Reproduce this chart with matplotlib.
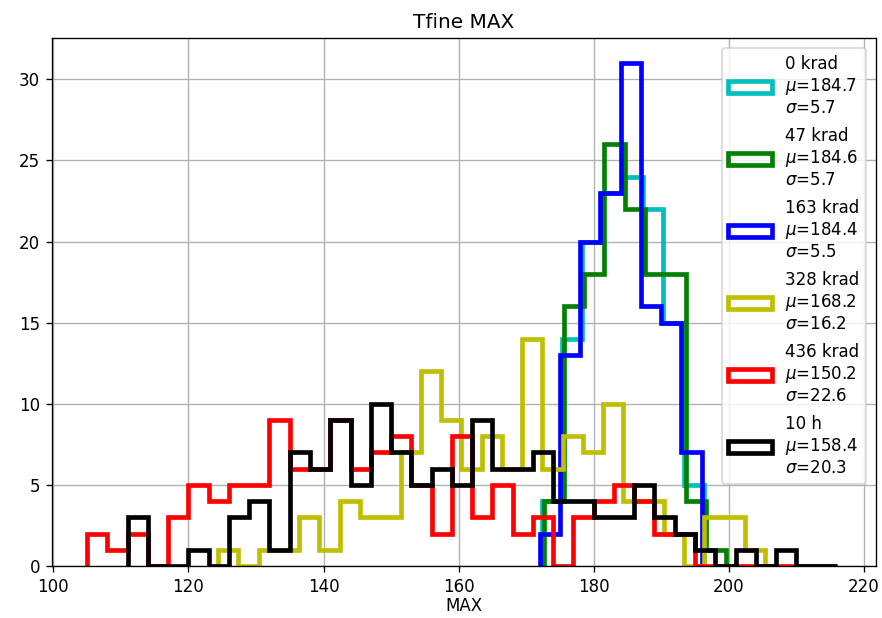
import numpy as np
from matplotlib import pyplot as plt

# bin width of all histograms, same for every dose
bin_width = 3

doses = ["0 krad", "47 krad", "163 krad", "328 krad", "436 krad", "10 h"]
colors = ["c", "g", "b", "y", "r", "k"]
means = [184.7, 184.6, 184.4, 168.2, 150.2, 158.4]
sigmas = [5.7, 5.7, 5.5, 16.2, 22.6, 20.3]

# lower edge of the first bin for each dose
first_edge = [172.3, 172.6, 172.0, 124.4, 105.0, 111.0]

counts_0krad = [4, 14, 20, 23, 24, 22, 15, 5]
counts_47krad = [4, 16, 18, 26, 22, 18, 18, 4, 1]
counts_163krad = [2, 13, 20, 23, 31, 16, 15, 7]
counts_328krad = [1, 0, 1, 1, 3, 1, 4, 3, 3, 7, 12, 9, 6, 8, 6, 14, 6, 8, 7,
                  10, 4, 4, 2, 0, 3, 3, 1]
counts_436krad = [2, 1, 2, 0, 3, 5, 4, 5, 5, 9, 6, 6, 9, 6, 7, 8, 5, 2, 8, 3,
                  5, 2, 3, 0, 3, 4, 5, 4, 2, 2, 0, 0, 0, 0, 0, 0, 0]
counts_10h = [3, 0, 0, 1, 0, 3, 4, 1, 7, 6, 9, 5, 10, 7, 5, 6, 5, 9, 6, 6, 7,
              4, 4, 3, 3, 5, 3, 2, 1, 0, 1, 0, 1, 0, 0]

all_counts = [counts_0krad, counts_47krad, counts_163krad,
              counts_328krad, counts_436krad, counts_10h]

fig = plt.figure(figsize=(7.35, 5.15), dpi=120)
ax = fig.add_axes([0.0586, 0.0841, 0.9346, 0.8544])

for dose, col, mu, sig, start, cnt in zip(doses, colors, means, sigmas,
                                          first_edge, all_counts):
    edges = start + bin_width * np.arange(len(cnt) + 1)
    centers = edges[:-1] + bin_width / 2
    label = f"{dose}\n$\\mu$={mu}\n$\\sigma$={sig}"
    ax.hist(centers, bins=edges, weights=cnt, histtype="step",
            color=col, lw=2.8, label=label)

ax.set_xlim(99.75, 221.8)
ax.set_ylim(0, 32.55)
ax.set_xlabel("MAX", labelpad=1)
ax.set_title("Tfine MAX")
ax.grid()
ax.legend(loc="upper right", handlelength=2.6, borderaxespad=0.6,
          labelspacing=0.55)

fig.savefig("out.png", dpi=120)
